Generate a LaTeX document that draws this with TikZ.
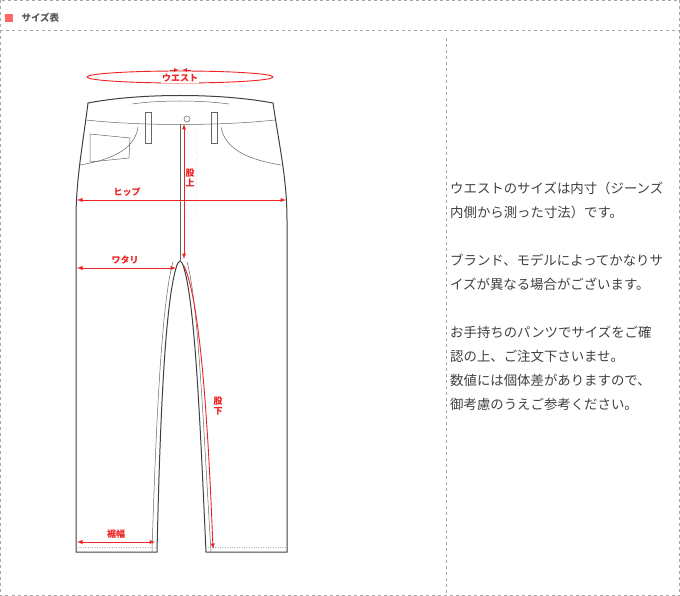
\documentclass[tikz,border=0pt]{standalone}
\usepackage{fontspec}
\newfontfamily\jp{Noto Sans CJK JP}
\definecolor{mred}{HTML}{EE2222}
\definecolor{pk}{HTML}{FF6666}
\begin{document}
\begin{tikzpicture}[x=1pt,y=-1pt,
  bord/.style={draw=gray!70,dashed,line width=0.6pt},
  jean/.style={draw=black!75,line width=1pt},
  thin/.style={draw=black!60,line width=0.5pt},
  stitch/.style={draw=gray!60,dotted,line width=0.4pt},
  meas/.style={draw=mred,line width=0.9pt,-latex},
  mm/.style={draw=mred,line width=0.9pt,latex-latex},
  lab/.style={text=mred,font=\jp\bfseries\fontsize{9}{10}\selectfont,inner sep=1pt},
  body/.style={text=black!75,font=\jp\fontsize{13.4}{24}\selectfont,anchor=north west,align=left,inner sep=0pt}]
\useasboundingbox (0,0) rectangle (680,596);
\draw[bord] (0.5,0.5) rectangle (679.5,595.5);
\draw[bord] (0,30) -- (680,30);
\draw[bord] (446,38) -- (446,596);
\fill[pk] (5,14) rectangle (13,22);
\node[anchor=west,text=black!65,font=\jp\bfseries\fontsize{9.5}{10}\selectfont] (title) at (18,18) {サイズ表};
% jeans outline
\draw[jean,fill=white] (88,103) .. controls (140,93) and (220,93) .. (273,103)
  .. controls (280,150) and (287,180) .. (287,220) -- (287,552) -- (206,552)
  .. controls (200,420) and (195,300) .. (183,265) .. controls (181,260) and (179,260) .. (177,265)
  .. controls (165,300) and (160,420) .. (157,552) -- (76,552) -- (76,220)
  .. controls (76,180) and (82,150) .. (88,103) -- cycle;
\draw[thin] (86,120) .. controls (140,126) and (220,126) .. (275,120);
\draw[thin] (180,124) -- (180,262);
\draw[stitch] (184,126) -- (184,200) .. controls (184,215) and (190,222) .. (196,220) -- (197,130);
\draw[thin] (173,262) .. controls (162,300) and (156,420) .. (152,552);
\draw[thin] (187,262) .. controls (198,300) and (203,420) .. (211,552);
\draw[stitch] (78,547) -- (155,547);
\draw[stitch] (208,547) -- (285,547);
% pockets
\draw[thin] (80,165) .. controls (110,160) and (135,150) .. (138,127);
\draw[thin] (281,165) .. controls (250,160) and (225,150) .. (221,127);
\draw[thin] (90,134) -- (130,138) -- (129,158) -- (90,162) -- cycle;
\draw[thin] (145,112) rectangle (151,143);
\draw[thin] (211,112) rectangle (217,143);
\draw[thin] (187,119) circle (3);
\draw[thin] (132,104) .. controls (160,100) and (200,100) .. (229,104);
% measurements
\draw[mred,line width=0.9pt] (180,77) ellipse (93 and 6);
\draw[mred,line width=0.7pt,-latex] (170,70) -- (179,70);
\draw[mred,line width=0.7pt,-latex] (191,70) -- (182,70);
\node[lab,fill=white] (waist) at (180,78) {ウエスト};
\draw[mm] (184,124) -- (184,259);
\node[lab,align=center] (rise) at (190,178) {股\\上};
\draw[mm] (77,200) -- (286,200);
\node[lab] (hip) at (127,192) {ヒップ};
\draw[mm] (77,268) -- (176,268);
\node[lab] (thigh) at (125,260) {ワタリ};
\draw[meas] (184,266) .. controls (200,300) and (208,420) .. (213,549);
\node[lab,align=center] (inseam) at (218,406) {股\\下};
\draw[mm] (77,542) -- (155,542);
\node[lab] (hem) at (116,534) {裾幅};
\node[body] (t1) at (450,182) {ウエストのサイズは内寸（ジーンズ\\内側から測った寸法）です。};
\node[body] (t2) at (450,254) {ブランド、モデルによってかなりサ\\イズが異なる場合がございます。};
\node[body] (t3) at (450,326) {お手持ちのパンツでサイズをご確\\認の上、ご注文下さいませ。\\数値には個体差がありますので、\\御考慮のうえご参考ください。};
\end{tikzpicture}
\end{document}
